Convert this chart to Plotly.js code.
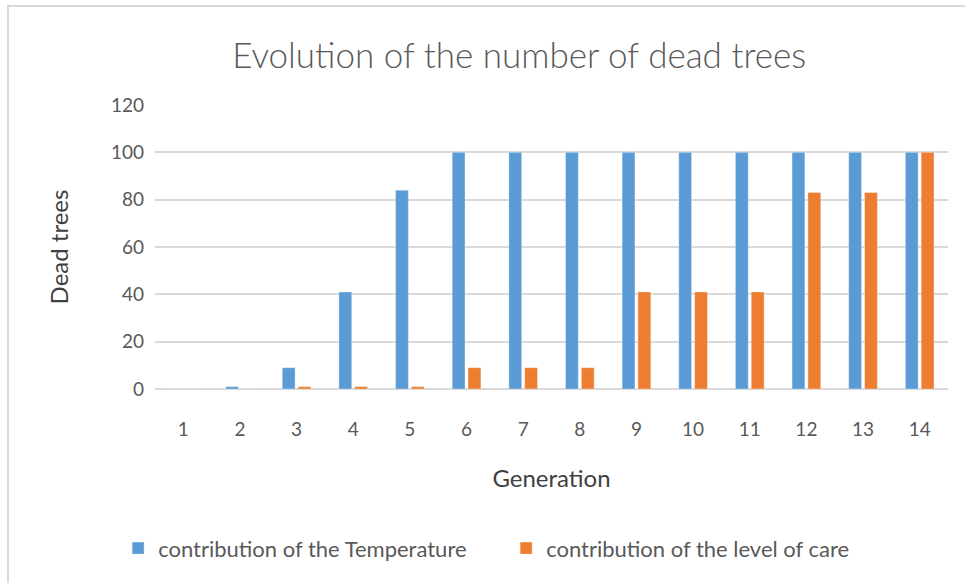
<!DOCTYPE html>
<html>
<head>
<meta charset="utf-8">
<script src="https://cdn.plot.ly/plotly-3.0.1.min.js"></script>
<style>
html,body{margin:0;padding:0;background:#fff;}
#wrap{position:relative;width:965px;height:583px;overflow:hidden;}
#chart{position:absolute;left:0;top:0;width:965px;height:583px;}
#frame{position:absolute;left:7px;top:5px;width:980px;height:620px;border-left:2px solid #d9d9d9;border-top:2px solid #d9d9d9;pointer-events:none;}
</style>
</head>
<body>
<div id="wrap"><div id="chart"></div><div id="frame"></div></div>
<script>
const generations = ['1','2','3','4','5','6','7','8','9','10','11','12','13','14'];
const temperature = [0, 1, 9, 41, 84, 100, 100, 100, 100, 100, 100, 100, 100, 100];
const levelOfCare = [0, 0, 1, 1, 1, 9, 9, 9, 41, 41, 41, 83, 83, 100];
const yTicks = [0, 20, 40, 60, 80, 100, 120];

const FONT = 'Lato, "Open Sans", sans-serif';
const data = [
  {type:'bar', name:'contribution of the Temperature', x:generations, y:temperature,
   marker:{color:'#5B9BD5', line:{color:'rgba(255,255,255,0.35)', width:1}}},
  {type:'bar', name:'contribution of the level of care', x:generations, y:levelOfCare,
   marker:{color:'#ED7D31', line:{color:'rgba(255,255,255,0.35)', width:1}}}
];
const layout = {
  width:965, height:583,
  margin:{l:155, r:17, t:105, b:194, autoexpand:false},
  paper_bgcolor:'#fff', plot_bgcolor:'#fff',
  font:{family:FONT, color:'#595959', size:19},
  title:{text:'Evolution of the number of dead trees', font:{family:FONT, size:35, color:'#595959', weight:300},
         x:0.538, xanchor:'center', y:0.905, yanchor:'middle'},
  barmode:'group', bargap:0.44, bargroupgap:0.19,
  xaxis:{type:'category', tickvals:generations, ticktext:generations, showgrid:false, zeroline:false,
         showline:false, ticks:'', tickfont:{size:19, color:'#595959'}, ticklabelstandoff:27,
         title:{text:'Generation', font:{size:24, color:'#404040'}, standoff:31}},
  yaxis:{range:[0,120], tickvals:yTicks, showgrid:true, gridcolor:'#d9d9d9', gridwidth:2,
         zeroline:true, zerolinecolor:'#d9d9d9', zerolinewidth:2, showline:false, ticks:'',
         tickfont:{size:19, color:'#595959'}, ticklabelstandoff:10,
         title:{text:'Dead trees', font:{size:24, color:'#404040'}, standoff:35}},
  legend:{orientation:'h', x:-0.0465, xanchor:'left', y:-0.561, yanchor:'middle',
          font:{size:22, color:'#595959'}, entrywidth:343, entrywidthmode:'pixels', traceorder:'normal'},
  showlegend:true
};
Plotly.newPlot('chart', data, layout, {displayModeBar:false, staticPlot:true});
</script>
</body>
</html>
